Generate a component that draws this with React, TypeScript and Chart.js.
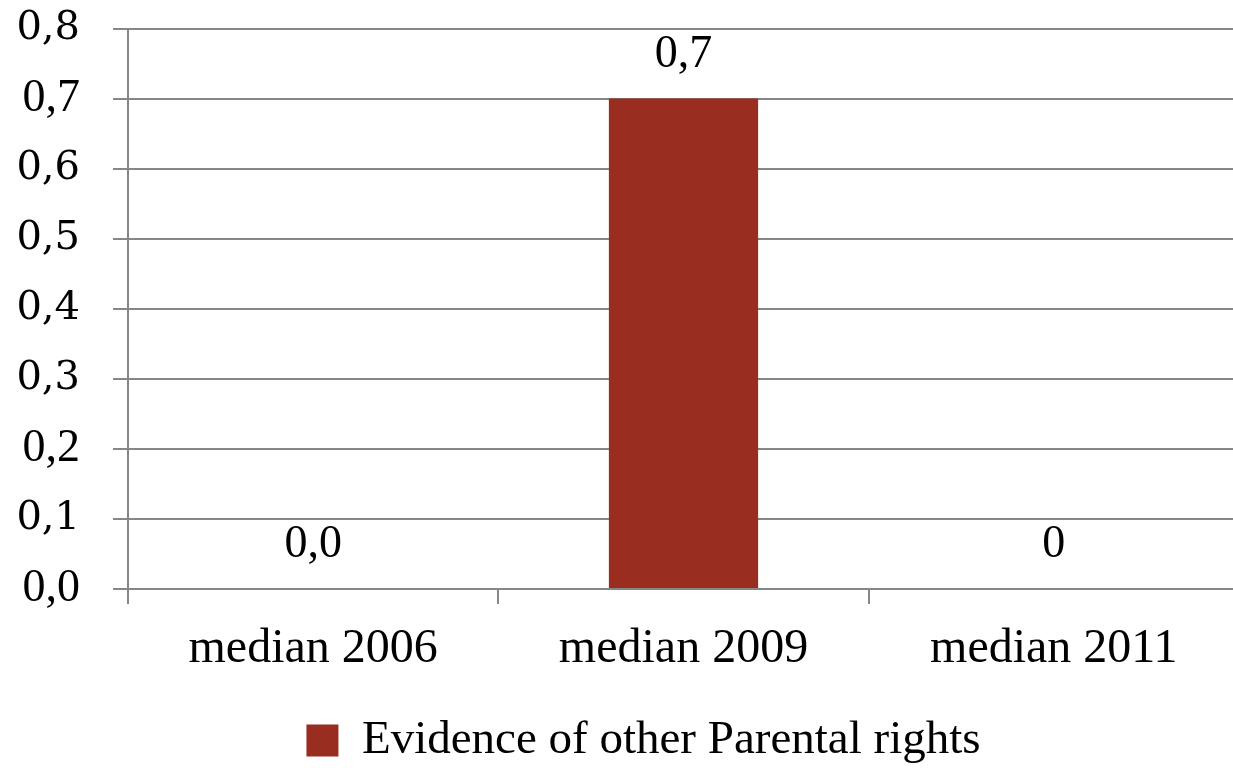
import React, { useEffect, useRef } from "react";
import { Chart, registerables } from "chart.js";

Chart.register(...registerables);

const categories = ["median 2006", "median 2009", "median 2011"];
const seriesName = "Evidence of other Parental rights";
const values = [0, 0.7, 0];
const valueLabels = ["0,0", "0,7", "0"];
const yTicks = [0, 0.1, 0.2, 0.3, 0.4, 0.5, 0.6, 0.7, 0.8];
const yTickLabels = ["0,0", "0,1", "0,2", "0,3", "0,4", "0,5", "0,6", "0,7", "0,8"];
// ticks rendered in the narrower serif (others in the heavier fallback serif)
const narrowTicks = [0, 0.2, 0.7];

const BAR_COLOR = "#982d20";
const GRID = "#878787";

const valueLabelPlugin = {
  id: "valueLabels",
  afterDatasetsDraw(chart: any) {
    const ctx = chart.ctx;
    const meta = chart.getDatasetMeta(0);
    ctx.save();
    ctx.fillStyle = "#000";
    ctx.font = "46px 'Liberation Serif'";
    ctx.textAlign = "center";
    ctx.textBaseline = "alphabetic";
    meta.data.forEach((bar: any, i: number) => {
      ctx.fillText(valueLabels[i], bar.x, bar.y - 32);
    });
    ctx.restore();
  },
};

const legendShift = {
  id: "legendShift",
  afterLayout(chart: any) {
    if (chart.legend) {
      chart.legend.left += 48;
      chart.legend.top += 6;
      chart.legend.bottom += 6;
    }
  },
};

export default function App() {
  const ref = useRef<HTMLCanvasElement>(null);
  useEffect(() => {
    document.body.style.overflow = "hidden";
    const chart = new Chart(ref.current!, {
      type: "bar",
      data: {
        labels: categories,
        datasets: [
          {
            label: seriesName,
            data: values,
            backgroundColor: BAR_COLOR,
            borderWidth: 0,
            categoryPercentage: 1,
            barPercentage: 0.403,
          },
        ],
      },
      options: {
        responsive: false,
        animation: false,
        layout: { padding: { top: 28.5, left: 0, right: 1, bottom: 0 } },
        plugins: {
          tooltip: { enabled: false },
          legend: {
            position: "bottom",
            labels: {
              color: "#000",
              font: { family: "'Liberation Serif'", size: 47 },
              boxWidth: 32,
              boxHeight: 32,
              padding: 5,
            },
          },
        },
        scales: {
          x: {
            offset: true,
            grid: {
              display: true,
              drawOnChartArea: false,
              drawTicks: true,
              tickLength: 15,
              color: GRID,
              lineWidth: 2,
              offset: true,
            },
            border: { display: true, color: GRID, width: 2 },
            ticks: {
              color: "#000",
              font: { family: "'Liberation Serif'", size: 48 },
              padding: 17,
            },
            afterFit(scale: any) {
              scale.height = 117;
              scale.paddingLeft = 0;
              scale.paddingRight = 0;
            },
          },
          y: {
            min: 0,
            max: 0.8,
            afterBuildTicks(scale: any) {
              scale.ticks = yTicks.map((v) => ({ value: v }));
            },
            grid: {
              color: GRID,
              lineWidth: 2,
              drawTicks: true,
              tickLength: 15,
            },
            border: { display: true, color: GRID, width: 2 },
            ticks: {
              color: "#000",
              padding: 33,
              callback: (_v: any, i: number) => yTickLabels[i],
              font: (c: any) => {
                const v = c.tick ? c.tick.value : yTicks[c.index];
                return narrowTicks.includes(v)
                  ? { family: "'Liberation Serif'", size: 46 }
                  : { family: "'DejaVu Serif'", size: 40 };
              },
            },
            afterFit(scale: any) {
              scale.width = 128;
              scale.paddingTop = 0;
              scale.paddingBottom = 0;
            },
          },
        },
      } as any,
      plugins: [valueLabelPlugin, legendShift],
    });
    return () => chart.destroy();
  }, []);
  return (
    <div style={{ position: "fixed", left: 0, top: 0, width: 1240, height: 768, background: "#fff" }}>
      <canvas ref={ref} width={1240} height={768} />
    </div>
  );
}
